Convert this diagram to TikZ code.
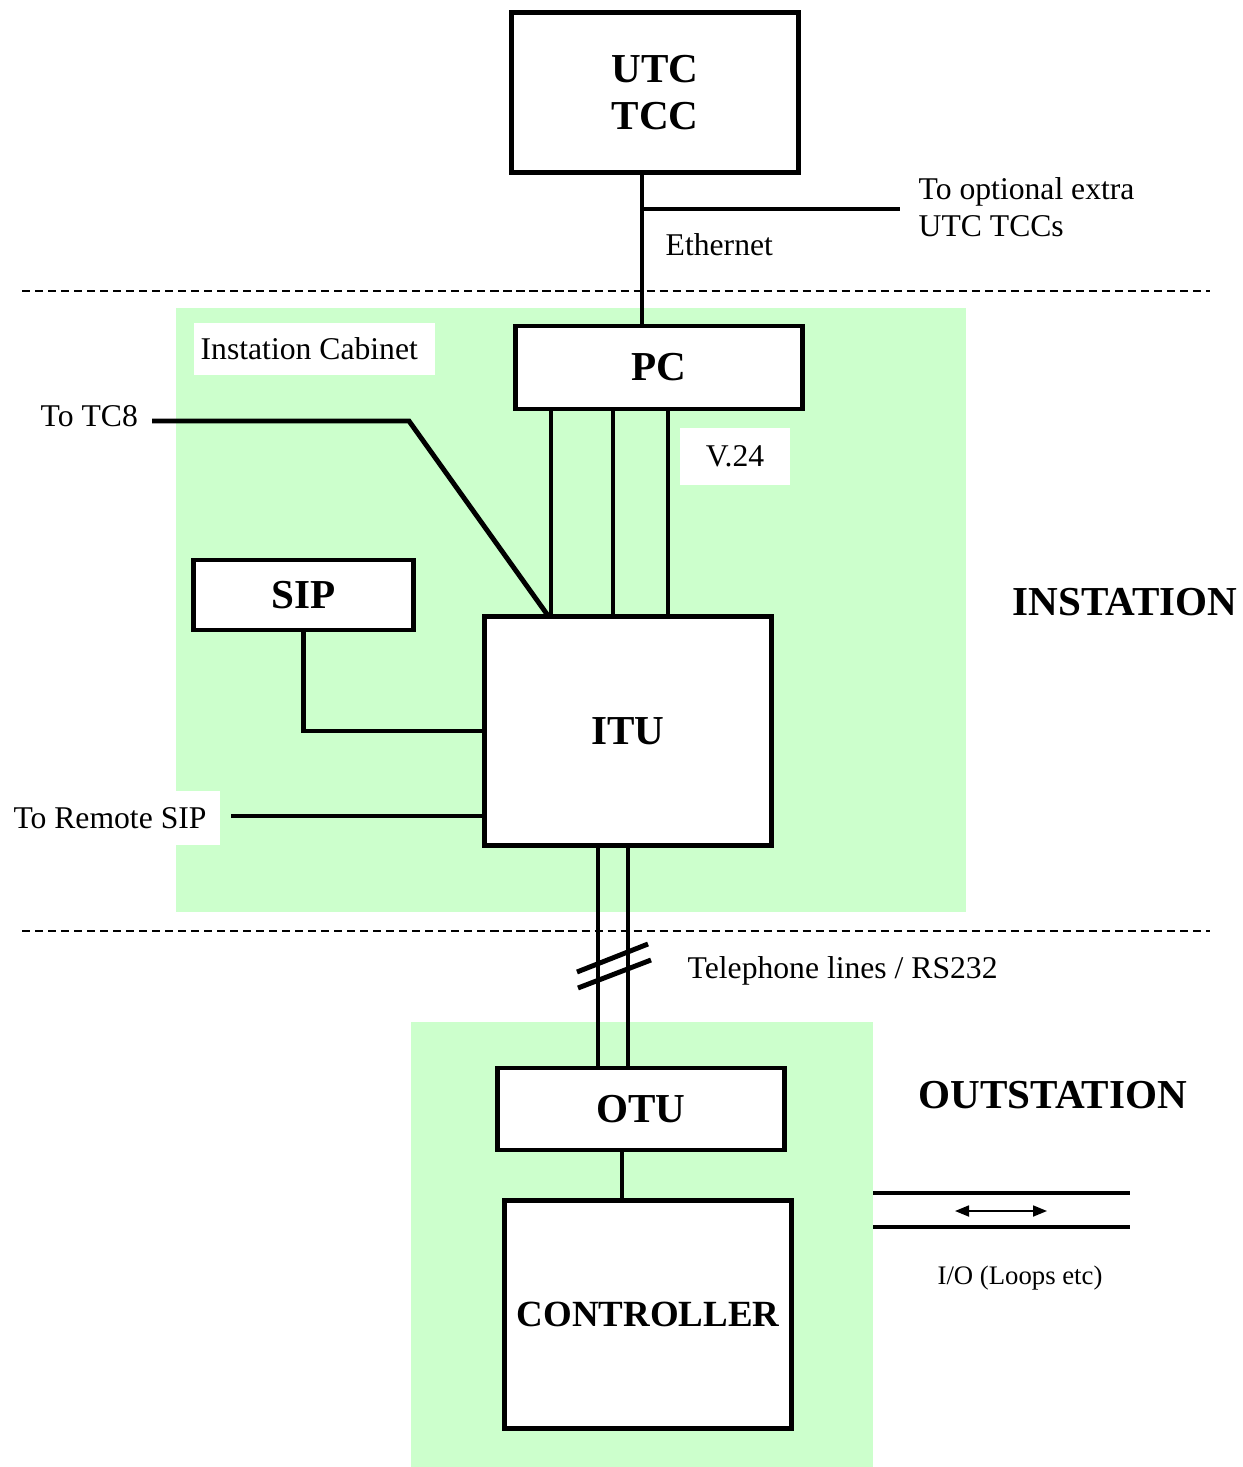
\documentclass[tikz,border=0pt]{standalone}
\usepackage{fontspec}
\setmainfont{Liberation Serif}
\usepackage{tikz}
\usetikzlibrary{arrows.meta,positioning}
\definecolor{cabinet}{HTML}{CCFFCC}

\begin{document}
\begin{tikzpicture}[
  x=0.01cm, y=-0.01cm,
  unit/.style={draw, line width=1.4pt, fill=white, inner sep=0pt,
               minimum width=2.86cm, font=\fontsize{11.7}{13.6}\selectfont\bfseries,
               align=center},
  wire/.style={line width=1.4pt},
  zone/.style={dash pattern=on 2.3pt off 1.4pt, line width=0.6pt},
  tag/.style={inner sep=0pt, font=\fontsize{9}{10.5}\selectfont, align=left},
  plate/.style={fill=white, inner sep=0pt, font=\fontsize{9}{10.5}\selectfont},
  side/.style={inner sep=0pt, anchor=west, font=\fontsize{11.7}{13.6}\selectfont\bfseries}
]
  \useasboundingbox (0,0) rectangle (1242,1467);

  % cabinets
  \fill[cabinet] (176,308) rectangle (966,912);
  \fill[cabinet] (411,1022) rectangle (873,1467);
  \draw[zone] (22,291) -- (1210,291);
  \draw[zone] (22,931) -- (1210,931);

  % units
  \node[unit, minimum height=1.59cm] (UTC)  at (655,92.5)  {UTC\\TCC};
  \node[unit, minimum height=0.83cm] (PC)   at (659,367.5) {PC};
  \node[unit, minimum height=2.28cm] (ITU)  at (628,731)   {ITU};
  \node[unit, minimum height=0.70cm, minimum width=2.19cm] (SIP) at (303.5,595) {SIP};
  \node[unit, minimum height=0.82cm] (OTU)  at (641,1109)  {OTU};
  \node[unit, minimum height=2.27cm, font=\fontsize{10.5}{12}\selectfont\bfseries]
        (CTRL) at (648,1314.5) {CONTROLLER};

  % labels
  \node[plate, anchor=west, minimum height=0.52cm, text width=2.27cm,
        inner xsep=0.07cm, align=flush left] (cab) at (193,349) {Instation Cabinet};
  \node[plate, minimum width=1.10cm, minimum height=0.57cm] (v24) at (735,456.5) {V.24};
  \node[plate, minimum width=2.20cm, minimum height=0.54cm] (rsip) at (110,818) {To Remote SIP};
  \node[tag, anchor=west] (tc8) at (40,416) {To TC8};
  \node[tag, anchor=west] (eth) at (665,245) {Ethernet};
  \node[tag, anchor=west] (extra) at (918,207) {To optional extra\\UTC TCCs};
  \node[tag, anchor=west] (tel) at (687,971) {Telephone lines / RS232};
  \node[inner sep=0pt, font=\fontsize{7.6}{9}\selectfont] (io) at (1020,1278) {I/O (Loops etc)};
  \node[side] (inst) at (1012,602)  {INSTATION};
  \node[side] (outst) at (918,1095) {OUTSTATION};

  \coordinate (tap) at (642,209);
  \coordinate (tapend) at (900,209);
  \coordinate (tc8end) at (152,421);
  \coordinate (tc8bend) at (409,421);
  \coordinate (tc8itu) at (549,617);
  \coordinate (rsipend) at (231,816);
  \coordinate (link) at (622,0);

  % connectors
  \draw[wire] (UTC.south -| tap) -- (PC.north -| tap);
  \draw[wire] (tap) -- (tapend);
  \foreach \x [count=\i] in {551,613,668} {
    \coordinate (v\i) at (\x,0);
    \draw[wire] (PC.south -| v\i) -- (ITU.north -| v\i);
  }
  \draw[wire] (tc8end) -- (tc8bend) -- (tc8itu);
  \draw[wire] (SIP.south) |- (ITU.west);
  \draw[wire] (rsipend) -- (rsipend -| ITU.west);
  \foreach \x [count=\i] in {598,628} {
    \coordinate (t\i) at (\x,0);
    \draw[wire] (ITU.south -| t\i) -- (OTU.north -| t\i);
  }
  \draw[wire] (577,972) -- (648,944);
  \draw[wire] (578,988) -- (651,960);
  \draw[wire] (OTU.south -| link) -- (CTRL.north -| link);

  % I/O
  \draw[wire] (873,1193) -- (1130,1193);
  \draw[wire] (873,1227) -- (1130,1227);
  \draw[{Triangle[length=1.4mm,width=1.1mm]}-{Triangle[length=1.4mm,width=1.1mm]}, line width=0.5pt]
    (955,1211) -- (1047,1211);
\end{tikzpicture}
\end{document}
